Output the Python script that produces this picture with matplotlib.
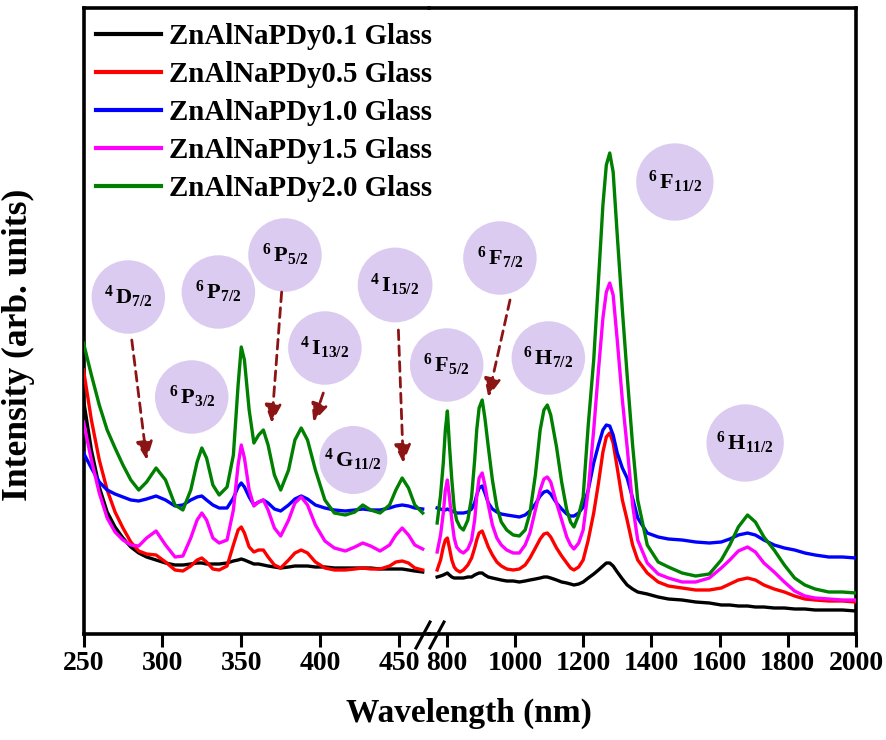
import matplotlib
matplotlib.use('Agg')
import matplotlib.pyplot as plt
from matplotlib.lines import Line2D

plt.rcParams['font.family'] = ['Liberation Serif', 'DejaVu Serif']
plt.rcParams['font.weight'] = 'bold'
plt.rcParams['mathtext.fontset'] = 'custom'
plt.rcParams['mathtext.rm'] = 'Liberation Serif:bold'
plt.rcParams['mathtext.bf'] = 'Liberation Serif:bold'
plt.rcParams['mathtext.it'] = 'Liberation Serif:bold'

# ---------------- data (arb. units) ----------------
wl_uv = [250, 255, 260, 265, 270, 275, 280, 285, 290, 296, 302, 308, 313, 318, 322,
         325, 328, 332, 336, 341, 345, 348, 350, 352, 355, 358, 361, 364, 367, 371,
         375, 380, 384, 388, 392, 397, 403, 409, 416, 422, 427, 432, 438, 444, 448,
         452, 456, 460, 465]

uv_dy01 = [234, 184, 147, 122, 107, 96, 87, 81, 77, 74, 71, 69, 69, 70, 71,
           71, 70, 70, 70, 71, 73, 74, 75, 74, 72, 70, 70, 69, 68, 67,
           66, 67, 68, 68, 68, 67, 67, 66, 66, 66, 66, 66, 65, 65, 65,
           65, 64, 63, 62]
uv_dy05 = [264, 214, 174, 144, 122, 106, 92, 83, 80, 79, 72, 64, 63, 68, 74,
           76, 72, 65, 64, 68, 89, 104, 107, 101, 87, 82, 84, 84, 77, 69,
           66, 74, 81, 84, 81, 72, 66, 64, 64, 65, 66, 65, 65, 68, 72,
           73, 71, 66, 64]
uv_dy10 = [181, 166, 152, 144, 140, 137, 134, 133, 135, 138, 134, 128, 129, 134, 137,
           138, 134, 129, 126, 126, 136, 147, 151, 147, 137, 129, 132, 134, 131, 125,
           123, 129, 135, 138, 135, 129, 126, 124, 123, 124, 125, 124, 124, 126, 128,
           129, 128, 126, 125]
uv_dy15 = [212, 174, 141, 116, 102, 94, 89, 88, 96, 103, 89, 77, 78, 96, 114,
           121, 114, 96, 91, 94, 124, 169, 189, 176, 144, 128, 132, 134, 124, 106,
           98, 114, 131, 137, 129, 109, 93, 86, 83, 87, 91, 88, 83, 89, 99,
           106, 99, 89, 85]
uv_dy20 = [291, 259, 229, 204, 186, 169, 154, 144, 152, 166, 154, 129, 124, 144, 172,
           186, 176, 149, 139, 147, 179, 249, 287, 274, 224, 191, 199, 204, 189, 159,
           144, 164, 194, 206, 194, 164, 134, 121, 119, 122, 129, 124, 121, 129, 144,
           156, 146, 129, 121]

wl_nir = [772, 782, 790, 796, 802, 808, 815, 822, 829, 839, 849, 862, 873, 882, 888,
          895, 904, 912, 922, 934, 947, 960, 976, 995, 1013, 1030, 1044, 1060, 1074, 1085,
          1095, 1105, 1122, 1137, 1152, 1163, 1173, 1187, 1200, 1215, 1231, 1245, 1258, 1268, 1278,
          1288, 1300, 1315, 1329, 1345, 1360, 1388, 1420, 1450, 1490, 1530, 1570, 1605, 1630, 1655,
          1682, 1705, 1730, 1760, 1790, 1820, 1850, 1880, 1920, 1960, 2000]

nir_dy01 = [57, 58, 59, 60, 61, 59, 57, 56, 56, 56, 56, 57, 57, 59, 60,
            61, 61, 59, 57, 56, 55, 54, 53, 53, 52, 53, 54, 55, 56, 57,
            57, 56, 54, 52, 51, 50, 49, 50, 52, 56, 60, 64, 68, 71, 71,
            68, 62, 55, 49, 45, 42, 40, 37, 35, 34, 32, 31, 29, 29, 28,
            28, 27, 27, 26, 26, 25, 25, 24, 24, 24, 23]
nir_dy05 = [64, 74, 87, 94, 96, 86, 74, 67, 64, 62, 64, 69, 76, 86, 94,
            101, 103, 96, 87, 79, 72, 68, 65, 64, 65, 69, 76, 86, 95, 100,
            101, 97, 86, 78, 71, 66, 64, 67, 74, 94, 121, 151, 182, 197, 201,
            191, 166, 134, 114, 89, 74, 61, 52, 48, 46, 44, 44, 46, 50, 54,
            56, 54, 49, 45, 42, 38, 35, 34, 33, 33, 32]
nir_dy10 = [126, 125, 124, 124, 125, 124, 123, 122, 121, 121, 121, 122, 125, 131, 139,
            146, 148, 141, 131, 125, 122, 120, 119, 118, 117, 119, 123, 130, 138, 142,
            143, 140, 131, 125, 120, 118, 118, 121, 127, 144, 171, 189, 204, 209, 208,
            199, 181, 166, 156, 136, 116, 101, 97, 95, 94, 92, 91, 92, 95, 99,
            101, 99, 94, 89, 86, 84, 81, 79, 77, 77, 76]
nir_dy15 = [82, 99, 121, 144, 154, 137, 114, 96, 87, 83, 81, 85, 94, 114, 137,
            156, 161, 149, 129, 109, 96, 89, 84, 81, 81, 89, 101, 124, 144, 155,
            157, 152, 131, 114, 97, 89, 85, 91, 104, 144, 204, 264, 316, 342, 351,
            339, 294, 234, 187, 129, 94, 71, 60, 56, 52, 52, 56, 66, 74, 83,
            87, 82, 71, 62, 52, 43, 38, 36, 35, 34, 34]
nir_dy20 = [111, 139, 171, 204, 223, 189, 154, 126, 114, 107, 104, 114, 137, 174, 204,
            226, 234, 216, 187, 154, 127, 112, 104, 99, 98, 104, 121, 159, 204, 224,
            229, 219, 187, 152, 124, 112, 107, 119, 137, 209, 274, 354, 429, 469, 481,
            462, 399, 324, 259, 189, 134, 89, 72, 67, 61, 58, 60, 74, 89, 107,
            119, 112, 97, 84, 69, 56, 49, 45, 42, 42, 41]

labels = ['ZnAlNaPDy0.1 Glass', 'ZnAlNaPDy0.5 Glass', 'ZnAlNaPDy1.0 Glass',
          'ZnAlNaPDy1.5 Glass', 'ZnAlNaPDy2.0 Glass']
colors = ['#000000', '#ff0000', '#0000ff', '#ff00ff', '#008000']
uv_series = [uv_dy01, uv_dy05, uv_dy10, uv_dy15, uv_dy20]
nir_series = [nir_dy01, nir_dy05, nir_dy10, nir_dy15, nir_dy20]

ticks_uv = [250, 300, 350, 400, 450]
ticks_nir = [800, 1000, 1200, 1400, 1600, 1800, 2000]

# transitions: (label, axis, wavelength, intensity, marker size)
levels = [
    (r'${}^{4}\,\mathrm{D}_{7/2}$', 0, 278.4, 337, 2800),
    (r'${}^{6}\,\mathrm{P}_{7/2}$', 0, 335.5, 342, 2800),
    (r'${}^{6}\,\mathrm{P}_{5/2}$', 0, 377.7, 379, 2800),
    (r'${}^{4}\,\mathrm{I}_{15/2}$', 0, 447.5, 349, 2900),
    (r'${}^{6}\,\mathrm{P}_{3/2}$', 0, 318.6, 237, 2800),
    (r'${}^{4}\,\mathrm{I}_{13/2}$', 0, 403.0, 286, 2800),
    (r'${}^{4}\,\mathrm{G}_{11/2}$', 0, 421.0, 174, 2400),
    (r'${}^{6}\,\mathrm{F}_{5/2}$', 1, 800, 269, 2800),
    (r'${}^{6}\,\mathrm{F}_{7/2}$', 1, 956, 376, 2800),
    (r'${}^{6}\,\mathrm{H}_{7/2}$', 1, 1098, 276, 2800),
    (r'${}^{6}\,\mathrm{F}_{11/2}$', 1, 1469, 452, 3100),
    (r'${}^{6}\,\mathrm{H}_{11/2}$', 1, 1675, 191, 3100),
]
# arrows: (axis, start wl, start I, tip wl, tip I)
arrows = [
    (0, 280.6, 294, 290.1, 174),
    (0, 375.6, 342, 369.3, 211),
    (0, 402.0, 241, 395.7, 212),
    (0, 449.6, 304, 452.7, 171),
    (1, 985.6, 334, 922.0, 237),
]

# ---------------- figure ----------------
W, H = 886, 740
fig = plt.figure(figsize=(W / 100, H / 100), dpi=100)


def fx(px):
    return px / W


def fy(py):
    return 1 - py / H


x_left, x_break, x_right = 83.5, 429, 856
y_top, y_bot = 8, 634
ax1 = fig.add_axes([fx(x_left), fy(y_bot), fx(x_break - x_left), (y_bot - y_top) / H])
ax2 = fig.add_axes([fx(x_break), fy(y_bot), fx(x_right - x_break), (y_bot - y_top) / H],
                   sharey=ax1)
ax1.patch.set_visible(False)
ax2.patch.set_visible(False)

ax1.set_xlim(250, 469.0)
ax2.set_xlim(748.1, 2000)
ax1.set_ylim(0, 626)

lav = '#dccbf1'
arrow_col = '#8b1414'
axes = [ax1, ax2]

for (txt, ai, xw, yi, s) in levels:
    a = axes[ai]
    a.scatter([xw], [yi], s=s, color=lav, edgecolors='none', zorder=1, clip_on=False)
    a.text(xw, yi, txt, ha='center', va='center', fontsize=16, zorder=1.5, clip_on=False)

for (ai, x0, y0, x1, y1) in arrows:
    axes[ai].annotate('', xy=(x1, y1), xytext=(x0, y0),
                      arrowprops=dict(arrowstyle='-|>,head_length=1.1,head_width=0.5',
                                      linestyle=(0, (3.5, 2.2)), color=arrow_col, lw=2.0,
                                      shrinkA=0, shrinkB=0), zorder=1.6)

handles = []
for lab, c, su, sn in zip(labels, colors, uv_series, nir_series):
    h, = ax1.plot(wl_uv, su, color=c, lw=2.4, zorder=3, solid_joinstyle='round')
    ax2.plot(wl_nir, sn, color=c, lw=2.4, zorder=3, solid_joinstyle='round')
    handles.append(h)

for a in axes:
    for sp in a.spines.values():
        sp.set_linewidth(2.6)
    a.tick_params(axis='x', direction='out', length=9, width=2.2, labelsize=20, pad=3)
    a.tick_params(axis='y', left=False, right=False, labelleft=False, labelright=False)
ax1.spines['right'].set_visible(False)
ax2.spines['left'].set_visible(False)
ax1.set_xticks(ticks_uv)
ax2.set_xticks(ticks_nir)
for a in axes:
    for lbl in a.get_xticklabels():
        lbl.set_fontweight('bold')

# break marks
for xc in (423, 437):
    fig.add_artist(Line2D([fx(xc - 7), fx(xc + 7)], [fy(648), fy(622)],
                          color='black', lw=2.2, transform=fig.transFigure))

leg = fig.legend(handles, labels, loc='upper left',
                 bbox_to_anchor=(fx(96), fy(23)), frameon=False, fontsize=20.8,
                 handlelength=2.25, handletextpad=0.28, labelspacing=0.38,
                 borderpad=0, borderaxespad=0)
for t in leg.get_texts():
    t.set_fontweight('bold')
for l in leg.get_lines():
    l.set_linewidth(3)

fig.text(fx(469), fy(713), 'Wavelength (nm)', ha='center', va='center',
         fontsize=24, fontweight='bold')
fig.text(fx(18), fy(345), 'Intensity (arb. units)', ha='center', va='center',
         rotation=90, fontsize=25.5, fontweight='bold')

fig.savefig('out.png', dpi=100)
